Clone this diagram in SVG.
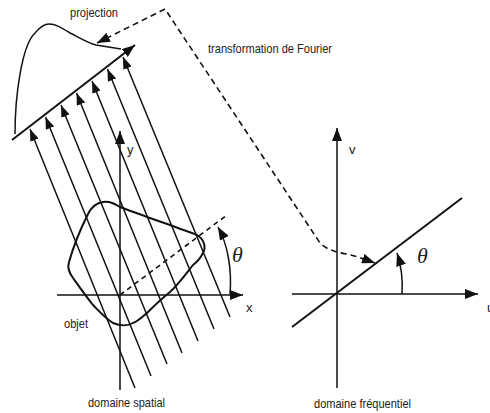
<svg xmlns="http://www.w3.org/2000/svg" width="490" height="413" viewBox="0 0 490 413">
<style>
.ln{fill:none;stroke:#111;stroke-width:1.5}
.thick{fill:none;stroke:#111;stroke-width:2}
.dash{fill:none;stroke:#111;stroke-width:1.6;stroke-dasharray:6 4}
.lbl{font-family:"Liberation Sans",Arial,sans-serif;font-size:13px;fill:#222}
.th{font-family:"Liberation Serif","Times New Roman",serif;font-style:italic;font-size:22px;fill:#222}
</style>
<defs>
<marker id="ah" viewBox="0 0 12 9" refX="12" refY="4.5" markerWidth="12" markerHeight="9" markerUnits="userSpaceOnUse" orient="auto-start-reverse">
<path d="M0,0 L12,4.5 L0,9 Z" fill="#111"/>
</marker>
<marker id="big" viewBox="0 0 13 10" refX="13" refY="5" markerWidth="13" markerHeight="10" markerUnits="userSpaceOnUse" orient="auto-start-reverse">
<path d="M0,0 L13,5 L0,10 Z" fill="#111"/>
</marker>
</defs>
<g id="connectors">
<path class="dash" d="M97,43 L165,9 L320,243 C327,250 336,252 346,254 C356,256 364,259 375,263" marker-start="url(#big)" marker-end="url(#big)"/>
</g>
<g id="spatial">
<line class="ln" x1="120" y1="390" x2="120" y2="131" marker-end="url(#big)"/>
<line class="ln" x1="57" y1="295" x2="243" y2="295" marker-end="url(#big)"/>
<path class="thick" d="M103,202 C110,201 115,204 120,207 C130,211 140,214 147,217 L170,225 C180,229 190,232 197,235 C205,240 206,248 203,253 C200,259 197,262 193,265 C185,275 178,285 170,292 C160,300 152,308 147,313 C140,319 137,322 133,323 C128,326 120,326 113,323 C105,318 98,310 93,305 C85,295 78,285 73,278 C70,274 67,268 69,262 C73,248 80,230 88,214 C91,208 95,203 103,202 Z"/>
<line class="dash" x1="120" y1="295" x2="227" y2="215" style="stroke-dasharray:5 4"/>
<path class="ln" d="M230,294 C232,270 228,245 218,227" marker-end="url(#big)"/>
<text class="th" x="232" y="262">θ</text>
<text class="lbl" x="127" y="154">y</text>
<text class="lbl" x="246" y="312">x</text>
<text class="lbl" x="64" y="328" textLength="24" lengthAdjust="spacingAndGlyphs">objet</text>
<text class="lbl" x="88" y="407" textLength="77" lengthAdjust="spacingAndGlyphs">domaine spatial</text>
</g>
<g id="rays">
<line class="ln" x1="135" y1="388" x2="30" y2="129" marker-end="url(#ah)"/>
<line class="ln" x1="151" y1="376" x2="45.5" y2="117" marker-end="url(#ah)"/>
<line class="ln" x1="167" y1="364" x2="61" y2="105" marker-end="url(#ah)"/>
<line class="ln" x1="182" y1="353" x2="76.5" y2="93" marker-end="url(#ah)"/>
<line class="ln" x1="198" y1="341" x2="92" y2="81" marker-end="url(#ah)"/>
<line class="ln" x1="214" y1="329" x2="107.5" y2="69" marker-end="url(#ah)"/>
<line class="ln" x1="230" y1="317" x2="123" y2="57" marker-end="url(#ah)"/>
</g>
<g id="projection">
<line class="thick" x1="12" y1="140" x2="135" y2="45" marker-end="url(#big)"/>
<path class="ln" d="M15,134 C15,95 22,45 35,33 C40,27 44,24 49,24 C56,24 62,28 70,33 C80,38 88,43 96,45 L121,49"/>
<text class="lbl" x="70" y="17" textLength="48" lengthAdjust="spacingAndGlyphs">projection</text>
</g>
<g id="fourier-label">
<text class="lbl" x="208" y="53" textLength="124" lengthAdjust="spacingAndGlyphs">transformation de Fourier</text>
</g>
<g id="frequency">
<line class="ln" x1="337" y1="388" x2="337" y2="128" marker-end="url(#big)"/>
<line class="ln" x1="292" y1="294" x2="478" y2="294" marker-end="url(#big)"/>
<line class="thick" x1="292" y1="327" x2="462" y2="198"/>
<path class="ln" d="M402,294 C403,280 401,265 397,253" marker-end="url(#big)"/>
<text class="th" x="417" y="263">θ</text>
<text class="lbl" x="349" y="154">v</text>
<text class="lbl" x="487" y="312">u</text>
<text class="lbl" x="314" y="408" textLength="97" lengthAdjust="spacingAndGlyphs">domaine fréquentiel</text>
</g>
</svg>
